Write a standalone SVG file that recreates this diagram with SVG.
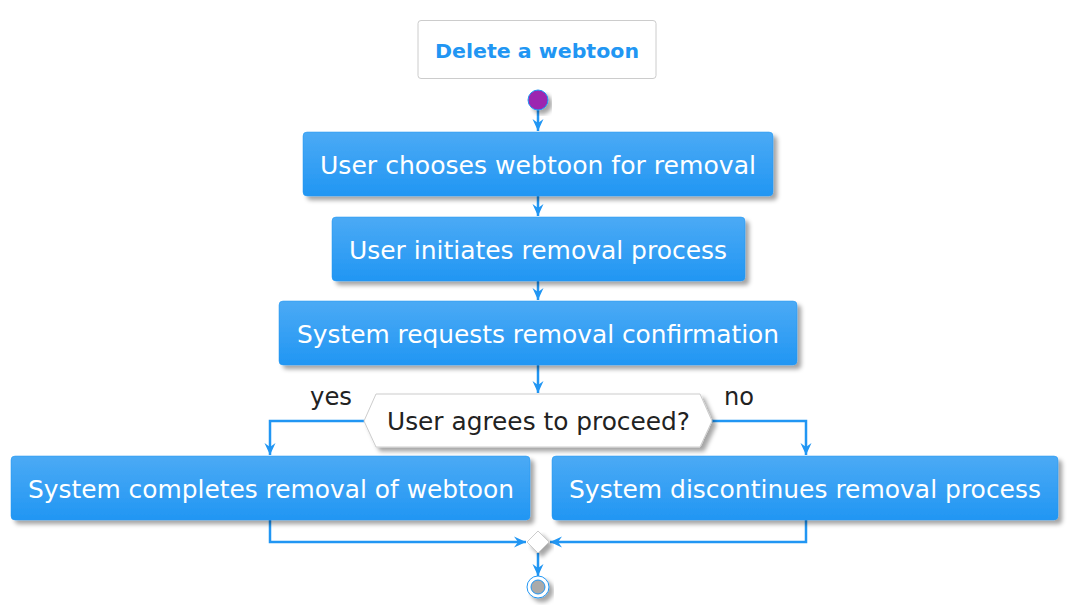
<svg xmlns="http://www.w3.org/2000/svg" width="1075" height="615" viewBox="0 0 1075 615">
<defs>
<linearGradient id="g" x1="0" y1="0" x2="0" y2="1">
<stop offset="0" stop-color="#4BAAF5"/>
<stop offset="1" stop-color="#2196F3"/>
</linearGradient>
<filter id="sh" x="-10%" y="-10%" width="130%" height="140%">
<feGaussianBlur in="SourceAlpha" stdDeviation="2"/>
<feOffset dx="4" dy="4" result="b"/>
<feFlood flood-color="#000" flood-opacity="0.35"/>
<feComposite in2="b" operator="in"/>
<feMerge><feMergeNode/><feMergeNode in="SourceGraphic"/></feMerge>
</filter>
<marker id="ah" viewBox="0 0 12 12" refX="12" refY="6" markerWidth="12" markerHeight="12" markerUnits="userSpaceOnUse" orient="auto">
<path d="M0,0.5 L12,6 L0,11.5 L4,6 Z" fill="#2196F3"/>
</marker>
</defs>
<style>
.box{fill:url(#g);stroke:#2196F3;stroke-width:0.5;filter:url(#sh)}
.t{font-family:"DejaVu Sans",Verdana,sans-serif;font-size:24px;fill:#FFFFFF;text-anchor:middle}
.d{font-family:"DejaVu Sans",Verdana,sans-serif;font-size:24px;fill:#222222;text-anchor:middle}
.c{fill:none;stroke:#2196F3;stroke-width:2.5}
</style>
<rect width="1075" height="615" fill="#FFFFFF"/>
<g id="title">
<rect x="418" y="20.5" width="238" height="58" rx="3" fill="#FFFFFF" stroke="#CCCCCC" stroke-width="1"/>
<text x="537" y="58" font-family="DejaVu Sans,Verdana,sans-serif" font-size="20" font-weight="bold" fill="#2196F3" text-anchor="middle" textLength="204" lengthAdjust="spacingAndGlyphs">Delete a webtoon</text>
</g>
<g id="connectors">
<line class="c" x1="538" y1="110" x2="538" y2="131" marker-end="url(#ah)"/>
<line class="c" x1="538" y1="196" x2="538" y2="216" marker-end="url(#ah)"/>
<line class="c" x1="538" y1="281" x2="538" y2="300" marker-end="url(#ah)"/>
<line class="c" x1="538" y1="365" x2="538" y2="393" marker-end="url(#ah)"/>
<polyline class="c" points="364,421 270,421 270,455" marker-end="url(#ah)"/>
<polyline class="c" points="712,421 806,421 806,455" marker-end="url(#ah)"/>
<polyline class="c" points="270,520 270,542 526,542" marker-end="url(#ah)"/>
<polyline class="c" points="806,520 806,542 550,542" marker-end="url(#ah)"/>
<line class="c" x1="538" y1="553" x2="538" y2="576" marker-end="url(#ah)"/>
</g>
<g id="start">
<circle cx="538" cy="100" r="10" fill="#9C27B0" stroke="#2196F3" stroke-width="1" filter="url(#sh)"/>
</g>
<g id="n1">
<rect class="box" x="303" y="132" width="470" height="64" rx="4"/>
<text class="t" x="538" y="174" textLength="436" lengthAdjust="spacingAndGlyphs">User chooses webtoon for removal</text>
</g>
<g id="n2">
<rect class="box" x="332" y="217" width="413" height="64" rx="4"/>
<text class="t" x="538" y="259" textLength="378" lengthAdjust="spacingAndGlyphs">User initiates removal process</text>
</g>
<g id="n3">
<rect class="box" x="279" y="301" width="518" height="64" rx="4"/>
<text class="t" x="538" y="343" textLength="482" lengthAdjust="spacingAndGlyphs">System requests removal confirmation</text>
</g>
<g id="decision">
<polygon points="364,421 376,394 700,394 712,421 700,447 376,447" fill="#FFFFFF" stroke="#CCCCCC" stroke-width="1" filter="url(#sh)"/>
<text class="d" x="538.5" y="430" textLength="303" lengthAdjust="spacingAndGlyphs">User agrees to proceed?</text>
<text class="d" x="331" y="405" textLength="42" lengthAdjust="spacingAndGlyphs">yes</text>
<text class="d" x="739" y="405" textLength="30" lengthAdjust="spacingAndGlyphs">no</text>
</g>
<g id="n4">
<rect class="box" x="11" y="456" width="519" height="64" rx="4"/>
<text class="t" x="271" y="498" textLength="486" lengthAdjust="spacingAndGlyphs">System completes removal of webtoon</text>
</g>
<g id="n5">
<rect class="box" x="552" y="456" width="506" height="64" rx="4"/>
<text class="t" x="805" y="498" textLength="472" lengthAdjust="spacingAndGlyphs">System discontinues removal process</text>
</g>
<g id="merge">
<polygon points="538,531 549,542 538,553 527,542" fill="#FFFFFF" stroke="#CCCCCC" stroke-width="1" filter="url(#sh)"/>
</g>
<g id="end">
<circle cx="538" cy="587" r="11" fill="#FFFFFF" stroke="#2196F3" stroke-width="1" filter="url(#sh)"/>
<circle cx="538" cy="587" r="7" fill="#AAAAAA" stroke="#2196F3" stroke-width="1"/>
</g>
</svg>
